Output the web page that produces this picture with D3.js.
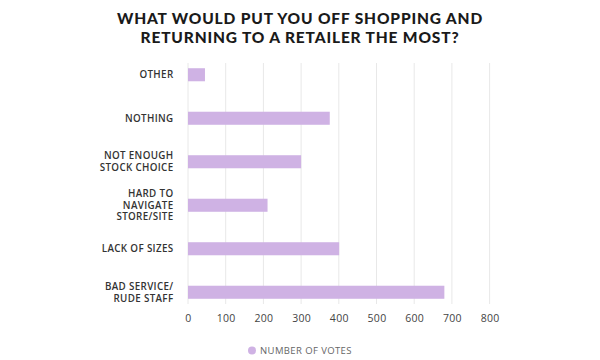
<!DOCTYPE html>
<html><head><meta charset="utf-8">
<script src="https://cdn.jsdelivr.net/npm/d3@7"></script>
<style>body{margin:0;background:#fff}svg{display:block}</style>
</head><body>
<svg id="c" width="600" height="360"></svg>
<script>
const titleLines = ["WHAT WOULD PUT YOU OFF SHOPPING AND", "RETURNING TO A RETAILER THE MOST?"];
const categories = [
  ["OTHER"],
  ["NOTHING"],
  ["NOT ENOUGH", "STOCK CHOICE"],
  ["HARD TO", "NAVIGATE", "STORE/SITE"],
  ["LACK OF SIZES"],
  ["BAD SERVICE/", "RUDE STAFF"]
];
const votes = [45, 376, 300, 211, 401, 680];
const xTicks = [0, 100, 200, 300, 400, 500, 600, 700, 800];
const seriesName = "NUMBER OF VOTES";

const svg = d3.select("#c");
const barColor = "#cfb2e4";
const x = d3.scaleLinear().domain([0, 800]).range([188, 489.6]);
const y = d3.scaleBand().domain(d3.range(categories.length)).range([53, 314]).paddingInner(0.7).paddingOuter(0.35);

// title
const tt = svg.append("g").selectAll("text").data(titleLines).join("text")
  .attr("x", 300).attr("y", (d, i) => 24 + i * 18.7)
  .attr("text-anchor", "middle")
  .attr("font-family", "Lato, sans-serif").attr("font-weight", 900)
  .attr("font-size", 15.5).attr("fill", "#1a1a1a")
  .text(d => d);
// widen to match reference line width (~366px for first line)
const w0 = tt.node().getComputedTextLength();
const ls = Math.max(0, (366 - w0) / (titleLines[0].length));
tt.attr("letter-spacing", ls.toFixed(2));

// grid
svg.append("g").selectAll("line").data(xTicks).join("line")
  .attr("x1", d => x(d)).attr("x2", d => x(d))
  .attr("y1", 63).attr("y2", 304)
  .attr("stroke", "#e8e8e8").attr("stroke-width", 1);

// bars
svg.append("g").selectAll("rect").data(votes).join("rect")
  .attr("x", x(0)).attr("y", (d, i) => y(i))
  .attr("width", d => x(d) - x(0)).attr("height", y.bandwidth())
  .attr("fill", barColor);

// category labels
const lab = svg.append("g").selectAll("text").data(categories).join("text")
  .attr("text-anchor", "end")
  .attr("font-family", "'Open Sans', sans-serif").attr("font-weight", 600)
  .attr("font-size", 9.8).attr("letter-spacing", 0.35).attr("fill", "#333");
lab.each(function(lines, i) {
  const cy = y(i) + y.bandwidth() / 2;
  const lh = 11.7;
  const start = cy - (lines.length - 1) * lh / 2;
  d3.select(this).selectAll("tspan").data(lines).join("tspan")
    .attr("x", 173.5).attr("y", (d, j) => start + j * lh)
    .attr("dy", "0.35em").text(d => d);
});

// x axis
const ax = svg.append("g").attr("transform", "translate(0,318)")
  .call(d3.axisBottom(x).tickValues(xTicks).tickSize(0).tickPadding(0).tickFormat(d3.format("d")));
ax.select(".domain").remove();
ax.selectAll("text").attr("font-family", "'Open Sans', sans-serif").attr("font-size", 10.5)
  .attr("letter-spacing", 0.3).attr("fill", "#444").attr("dy", "0.35em");

// legend
svg.append("circle").attr("cx", 252).attr("cy", 350.5).attr("r", 4).attr("fill", barColor);
svg.append("text").attr("x", 260).attr("y", 350.5).attr("dy", "0.35em")
  .attr("font-family", "'Open Sans', sans-serif").attr("font-size", 9.5)
  .attr("letter-spacing", 0.4).attr("fill", "#666")
  .text(seriesName);
</script>
</body></html>
